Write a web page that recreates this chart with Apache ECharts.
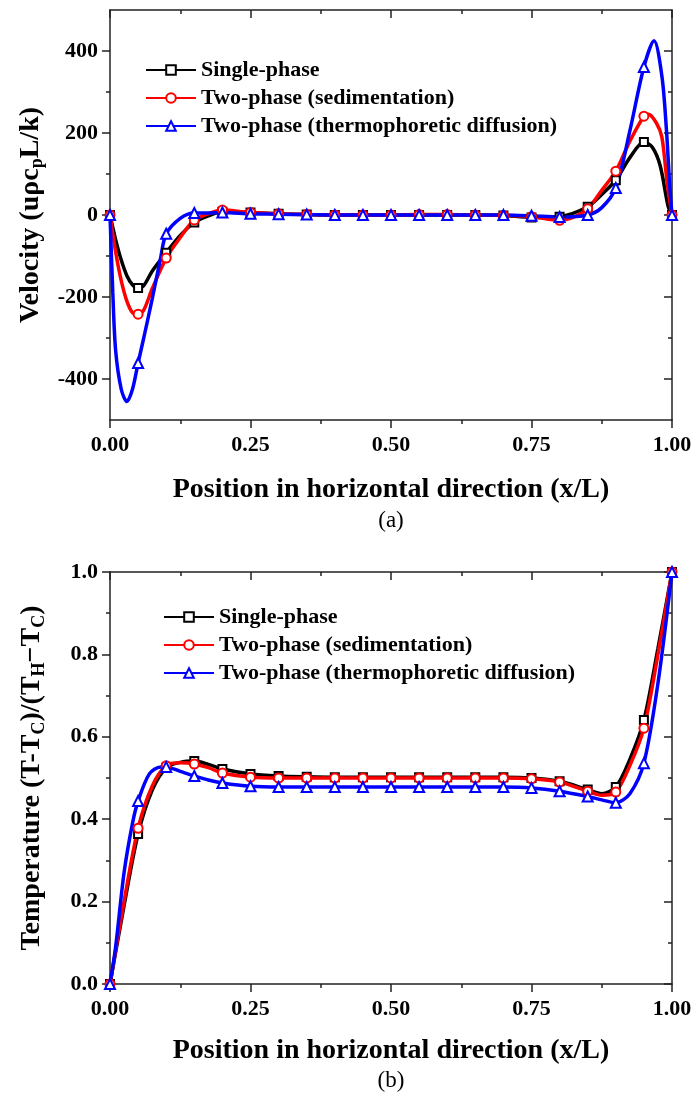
<!DOCTYPE html>
<html>
<head>
<meta charset="utf-8">
<script src="https://cdn.jsdelivr.net/npm/echarts@6/dist/echarts.min.js"></script>
<style>
  html, body { margin: 0; padding: 0; background: #fff; }
  #chart { width: 693px; height: 1096px; }
</style>
</head>
<body>
<div id="chart"></div>
<script>
// Sample positions carrying a marker (every 0.05 of x/L)
const markX = [0, 0.05, 0.10, 0.15, 0.20, 0.25, 0.30, 0.35, 0.40, 0.45, 0.50,
               0.55, 0.60, 0.65, 0.70, 0.75, 0.80, 0.85, 0.90, 0.95, 1.00];

// (a) Velocity at the marker positions
const velSingle  = [0, -178, -92, -18, 8, 6, 3, 1, 0, 0, 0, 0, 0, 0, -1, -6, -4, 20, 85, 178, 0];
const velSedim   = [0, -242, -105, -12, 12, 6, 3, 1, 0, 0, 0, 1, 1, 0, -1, -4, -13, 15, 107, 241, 0];
const velThermo  = [0, -361, -46, 5, 6, 3, 2, 1, 0, 0, 0, 0, 0, 0, 0, -2, -5, 0, 66, 361, 0];
// (a) Velocity between markers (near the walls, where the profiles bend)
const velSingleExtra = [[0.01, -60], [0.02, -110], [0.03, -148], [0.04, -170], [0.06, -172], [0.075, -137],
                        [0.125, -50], [0.175, -2], [0.875, 50], [0.925, 140], [0.965, 165], [0.979, 120], [0.993, 22]];
const velSedimExtra  = [[0.01, -90], [0.02, -160], [0.03, -210], [0.04, -238], [0.06, -232], [0.075, -180],
                        [0.125, -55], [0.175, 3], [0.825, -5], [0.875, 60], [0.925, 180], [0.958, 246],
                        [0.972, 225], [0.982, 190], [0.992, 71]];
const velThermoExtra = [[0.005, -190], [0.01, -330], [0.02, -425], [0.03, -455], [0.04, -425], [0.06, -300],
                        [0.075, -205], [0.09, -105], [0.125, -8], [0.175, 5], [0.875, 18], [0.925, 205],
                        [0.968, 425], [0.982, 339], [0.99, 210], [0.996, 71]];

// (b) Temperature at the marker positions
const tempSingle = [0, 0.364, 0.525, 0.541, 0.522, 0.510, 0.505, 0.503, 0.502, 0.502, 0.502,
                    0.502, 0.502, 0.502, 0.502, 0.500, 0.492, 0.472, 0.478, 0.641, 1.0];
const tempSedim  = [0, 0.378, 0.530, 0.534, 0.512, 0.502, 0.500, 0.500, 0.500, 0.500, 0.500,
                    0.500, 0.500, 0.500, 0.500, 0.498, 0.490, 0.468, 0.466, 0.621, 1.0];
const tempThermo = [0, 0.444, 0.527, 0.505, 0.488, 0.480, 0.478, 0.478, 0.478, 0.478, 0.478,
                    0.478, 0.478, 0.478, 0.478, 0.476, 0.468, 0.455, 0.440, 0.536, 1.0];
// (b) Temperature between markers
const tempSingleExtra = [[0.025, 0.19], [0.075, 0.47], [0.125, 0.538], [0.175, 0.533],
                         [0.875, 0.462], [0.925, 0.545], [0.975, 0.815]];
const tempSedimExtra  = [[0.025, 0.20], [0.075, 0.48], [0.125, 0.537], [0.175, 0.525],
                         [0.875, 0.458], [0.925, 0.53], [0.975, 0.80]];
const tempThermoExtra = [[0.01, 0.09], [0.025, 0.27], [0.04, 0.39], [0.07, 0.51], [0.09, 0.527],
                         [0.125, 0.516], [0.175, 0.495], [0.875, 0.447], [0.925, 0.462], [0.975, 0.73]];

// Series names and axis ticks
const seriesNames = ['Single-phase', 'Two-phase (sedimentation)', 'Two-phase (thermophoretic diffusion)'];
const xTicks = [0, 0.25, 0.5, 0.75, 1];
const xMinor = [0.125, 0.375, 0.625, 0.875];
const velTicks = [-400, -200, 0, 200, 400];
const velMinor = [-300, -100, 100, 300];
const tempTicks = [0, 0.2, 0.4, 0.6, 0.8, 1.0];
const tempMinor = [0.1, 0.3, 0.5, 0.7, 0.9];

const SERIF = '"Liberation Serif", "Times New Roman", serif';
const AXIS_COLOR = '#222';

function merge(marks, extra) {
  const pts = marks.map((v, i) => ({ value: [markX[i], v] }));
  extra.forEach(p => pts.push({ value: [p[0], p[1]], symbol: 'none' }));
  pts.sort((a, b) => a.value[0] - b.value[0]);
  return pts;
}

function axisSet(dim, gridIndex, range, ticks, minor, fmt, name, nameGap) {
  const near = dim === 'x' ? 'bottom' : 'left';
  const far = dim === 'x' ? 'top' : 'right';
  const line = { color: AXIS_COLOR, width: 1.5 };
  const base = { gridIndex, type: 'value', min: range[0], max: range[1], splitLine: { show: false } };
  return [
    Object.assign({}, base, {
      position: near,
      axisLine: { show: true, onZero: false, lineStyle: line },
      axisTick: { show: true, inside: false, length: 8, customValues: ticks, lineStyle: line },
      axisLabel: { show: true, customValues: ticks, formatter: fmt, margin: dim === 'x' ? 14 : 12,
                   fontSize: 22, fontWeight: 'bold', fontFamily: SERIF, color: '#000' },
      name: name, nameLocation: 'middle', nameGap: nameGap,
      nameTextStyle: {
        color: '#000',
        fontSize: 28, fontWeight: 'bold', fontFamily: SERIF,
        rich: {
          b: { fontSize: 28, fontWeight: 'bold', fontFamily: SERIF, color: '#000' },
          s: { fontSize: 18, fontWeight: 'bold', fontFamily: SERIF, color: '#000', padding: [14, 0, 0, 0] }
        }
      }
    }),
    Object.assign({}, base, {
      position: near,
      axisLine: { show: false, onZero: false },
      axisTick: { show: true, inside: false, length: 4, customValues: minor, lineStyle: line },
      axisLabel: { show: false }
    }),
    Object.assign({}, base, {
      position: far,
      axisLine: { show: true, onZero: false, lineStyle: line },
      axisTick: { show: true, inside: true, length: 8, customValues: ticks, lineStyle: line },
      axisLabel: { show: false }
    }),
    Object.assign({}, base, {
      position: far,
      axisLine: { show: false, onZero: false },
      axisTick: { show: true, inside: true, length: 4, customValues: minor, lineStyle: line },
      axisLabel: { show: false }
    })
  ];
}

const fmtX = v => v.toFixed(2);
const fmtVel = v => String(v);
const fmtTemp = v => v.toFixed(1);

const xAxes = axisSet('x', 0, [0, 1], xTicks, xMinor, fmtX, 'Position in horizontal direction (x/L)', 56)
  .concat(axisSet('x', 1, [0, 1], xTicks, xMinor, fmtX, 'Position in horizontal direction (x/L)', 53));
const yAxes = axisSet('y', 0, [-500, 500], velTicks, velMinor, fmtVel,
    '{b|Velocity (uρc}{s|p}{b|L/k)}', 62)
  .concat(axisSet('y', 1, [0, 1], tempTicks, tempMinor, fmtTemp,
    '{b|Temperature (T-T}{s|C}{b|)/(T}{s|H}{b|−T}{s|C}{b|)}', 62));

const styles = [
  { color: '#000000', symbol: 'emptyRect', size: 8 },
  { color: '#ff0000', symbol: 'emptyCircle', size: 9 },
  { color: '#0000ff', symbol: 'emptyTriangle', size: 10 }
];

function makeSeries(k, gridIndex, data) {
  const st = styles[k];
  return {
    name: seriesNames[k],
    type: 'line',
    xAxisIndex: gridIndex * 4,
    yAxisIndex: gridIndex * 4,
    data: data,
    smooth: 0.3,
    showAllSymbol: true,
    symbol: st.symbol,
    symbolSize: st.size,
    color: st.color,
    lineStyle: { color: st.color, width: 3.5 },
    itemStyle: { color: st.color, borderColor: st.color, borderWidth: 1.2 },
    emphasis: { disabled: true },
    animation: false
  };
}

const series = [
  makeSeries(0, 0, merge(velSingle, velSingleExtra)),
  makeSeries(1, 0, merge(velSedim, velSedimExtra)),
  makeSeries(2, 0, merge(velThermo, velThermoExtra)),
  makeSeries(0, 1, merge(tempSingle, tempSingleExtra)),
  makeSeries(1, 1, merge(tempSedim, tempSedimExtra)),
  makeSeries(2, 1, merge(tempThermo, tempThermoExtra))
];

function legendAt(left, top) {
  return {
    data: seriesNames,
    orient: 'vertical',
    left: left, top: top,
    padding: 0,
    itemWidth: 50, itemHeight: 12, itemGap: 6,
    selectedMode: false,
    textStyle: { fontSize: 22, fontWeight: 'bold', fontFamily: SERIF, color: '#000' }
  };
}

const chart = echarts.init(document.getElementById('chart'), null, { renderer: 'canvas' });
chart.setOption({
  backgroundColor: '#fff',
  animation: false,
  grid: [
    { left: 110, right: 21, top: 10, height: 410, containLabel: false, outerBoundsMode: 'none' },
    { left: 110, right: 21, top: 572, height: 412, containLabel: false, outerBoundsMode: 'none' }
  ],
  xAxis: xAxes,
  yAxis: yAxes,
  legend: [legendAt(145, 59), legendAt(163, 606)],
  series: series,
  graphic: [
    { type: 'text', x: 391, y: 521, style: { text: '(a)', fontSize: 23, fontFamily: SERIF, fill: '#000', align: 'center', verticalAlign: 'middle' } },
    { type: 'text', x: 391, y: 1081, style: { text: '(b)', fontSize: 23, fontFamily: SERIF, fill: '#000', align: 'center', verticalAlign: 'middle' } }
  ]
});
</script>
</body>
</html>
